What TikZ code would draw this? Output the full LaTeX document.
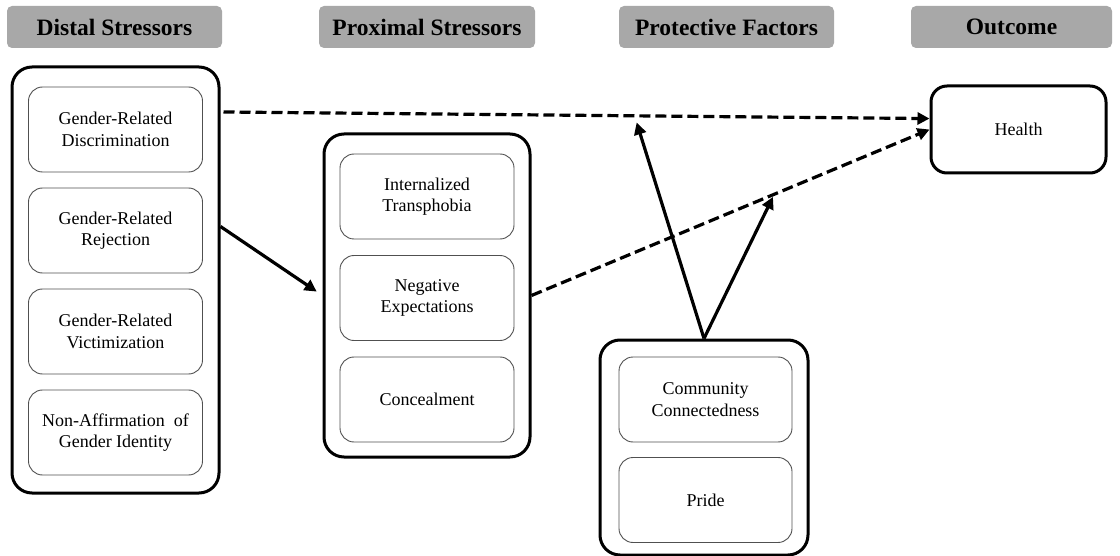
\documentclass[tikz,border=0pt]{standalone}
\usepackage{fontspec}
\setmainfont{Liberation Serif}
\usetikzlibrary{positioning}
\usetikzlibrary{arrows.meta}
\definecolor{headgray}{RGB}{168,168,168}
\definecolor{boxline}{RGB}{80,80,80}

\begin{document}
\begin{tikzpicture}[x=1pt,y=-1pt,
  head/.style={fill=headgray, rounded corners=5pt, minimum height=42pt, font=\fontsize{23.5}{27}\selectfont\bfseries},
  outer/.style={draw=black, line width=3pt, rounded corners=20pt},
  inner/.style={draw=boxline, line width=0.9pt, rounded corners=14pt, minimum width=174pt, minimum height=85pt, align=center, font=\fontsize{18}{21.5}\selectfont},
  dasharrow/.style={line width=3.2pt, dash pattern=on 11pt off 5pt, -{Triangle[length=12pt,width=12pt]}},
  solidarrow/.style={line width=3.2pt, -{Triangle[length=12pt,width=12pt]}}]
\useasboundingbox (0,0) rectangle (1120,556);
%headers
\node[head, minimum width=215pt](hdist) at (114.5,27){Distal Stressors};
\node[head, minimum width=216pt](hprox) at (427,27){Proximal Stressors};
\node[head, minimum width=215pt](hprot) at (726.5,27){Protective Factors};
\node[head, minimum width=201pt](hout) at (1011.5,27){Outcome};
%outer boxes
\node[outer, minimum width=207pt, minimum height=426pt](distal) at (115.5,280){};
\node[outer, minimum width=206pt, minimum height=323pt](prox) at (427,295.5){};
\node[outer, minimum width=208pt, minimum height=215pt](prot) at (704,447.5){};
\node[outer, rounded corners=16pt, minimum width=175pt, minimum height=87pt, font=\fontsize{18}{21.5}\selectfont](health) at (1018.5,129.5){Health};
%distal stressors
\node[inner](disc) at (115.5,129.5){Gender-Related\\Discrimination};
\node[inner](rej) at (115.5,230.5){Gender-Related\\Rejection};
\node[inner](vict) at (115.5,331.5){Gender-Related\\Victimization};
\node[inner](naff) at (115.5,432.5){Non-Affirmation~ of\\Gender Identity};
%proximal stressors
\node[inner](intr) at (427,196.5){Internalized\\Transphobia};
\node[inner](negx) at (427,298){Negative\\Expectations};
\node[inner](conc) at (427,399.5){Concealment};
%protective factors
\node[inner, minimum width=173pt](comm) at (705.5,399.5){Community\\Connectedness};
\node[inner, minimum width=173pt](pride) at (705.5,500){Pride};
%paths to health
\draw[dasharrow, shorten <=3pt] (distal.58) -- coordinate[pos=0.584](ontop) (health.173);
\draw[dasharrow] (prox.east) -- coordinate[pos=0.61](onlow) (health.west);
\draw[solidarrow, shorten >=7pt] (distal.27) -- (prox.west);
%moderation
\draw[solidarrow, shorten >=7pt] (prot.north) -- (ontop);
\draw[solidarrow, shorten >=3pt] (prot.north) -- (onlow);
\end{tikzpicture}
\end{document}
